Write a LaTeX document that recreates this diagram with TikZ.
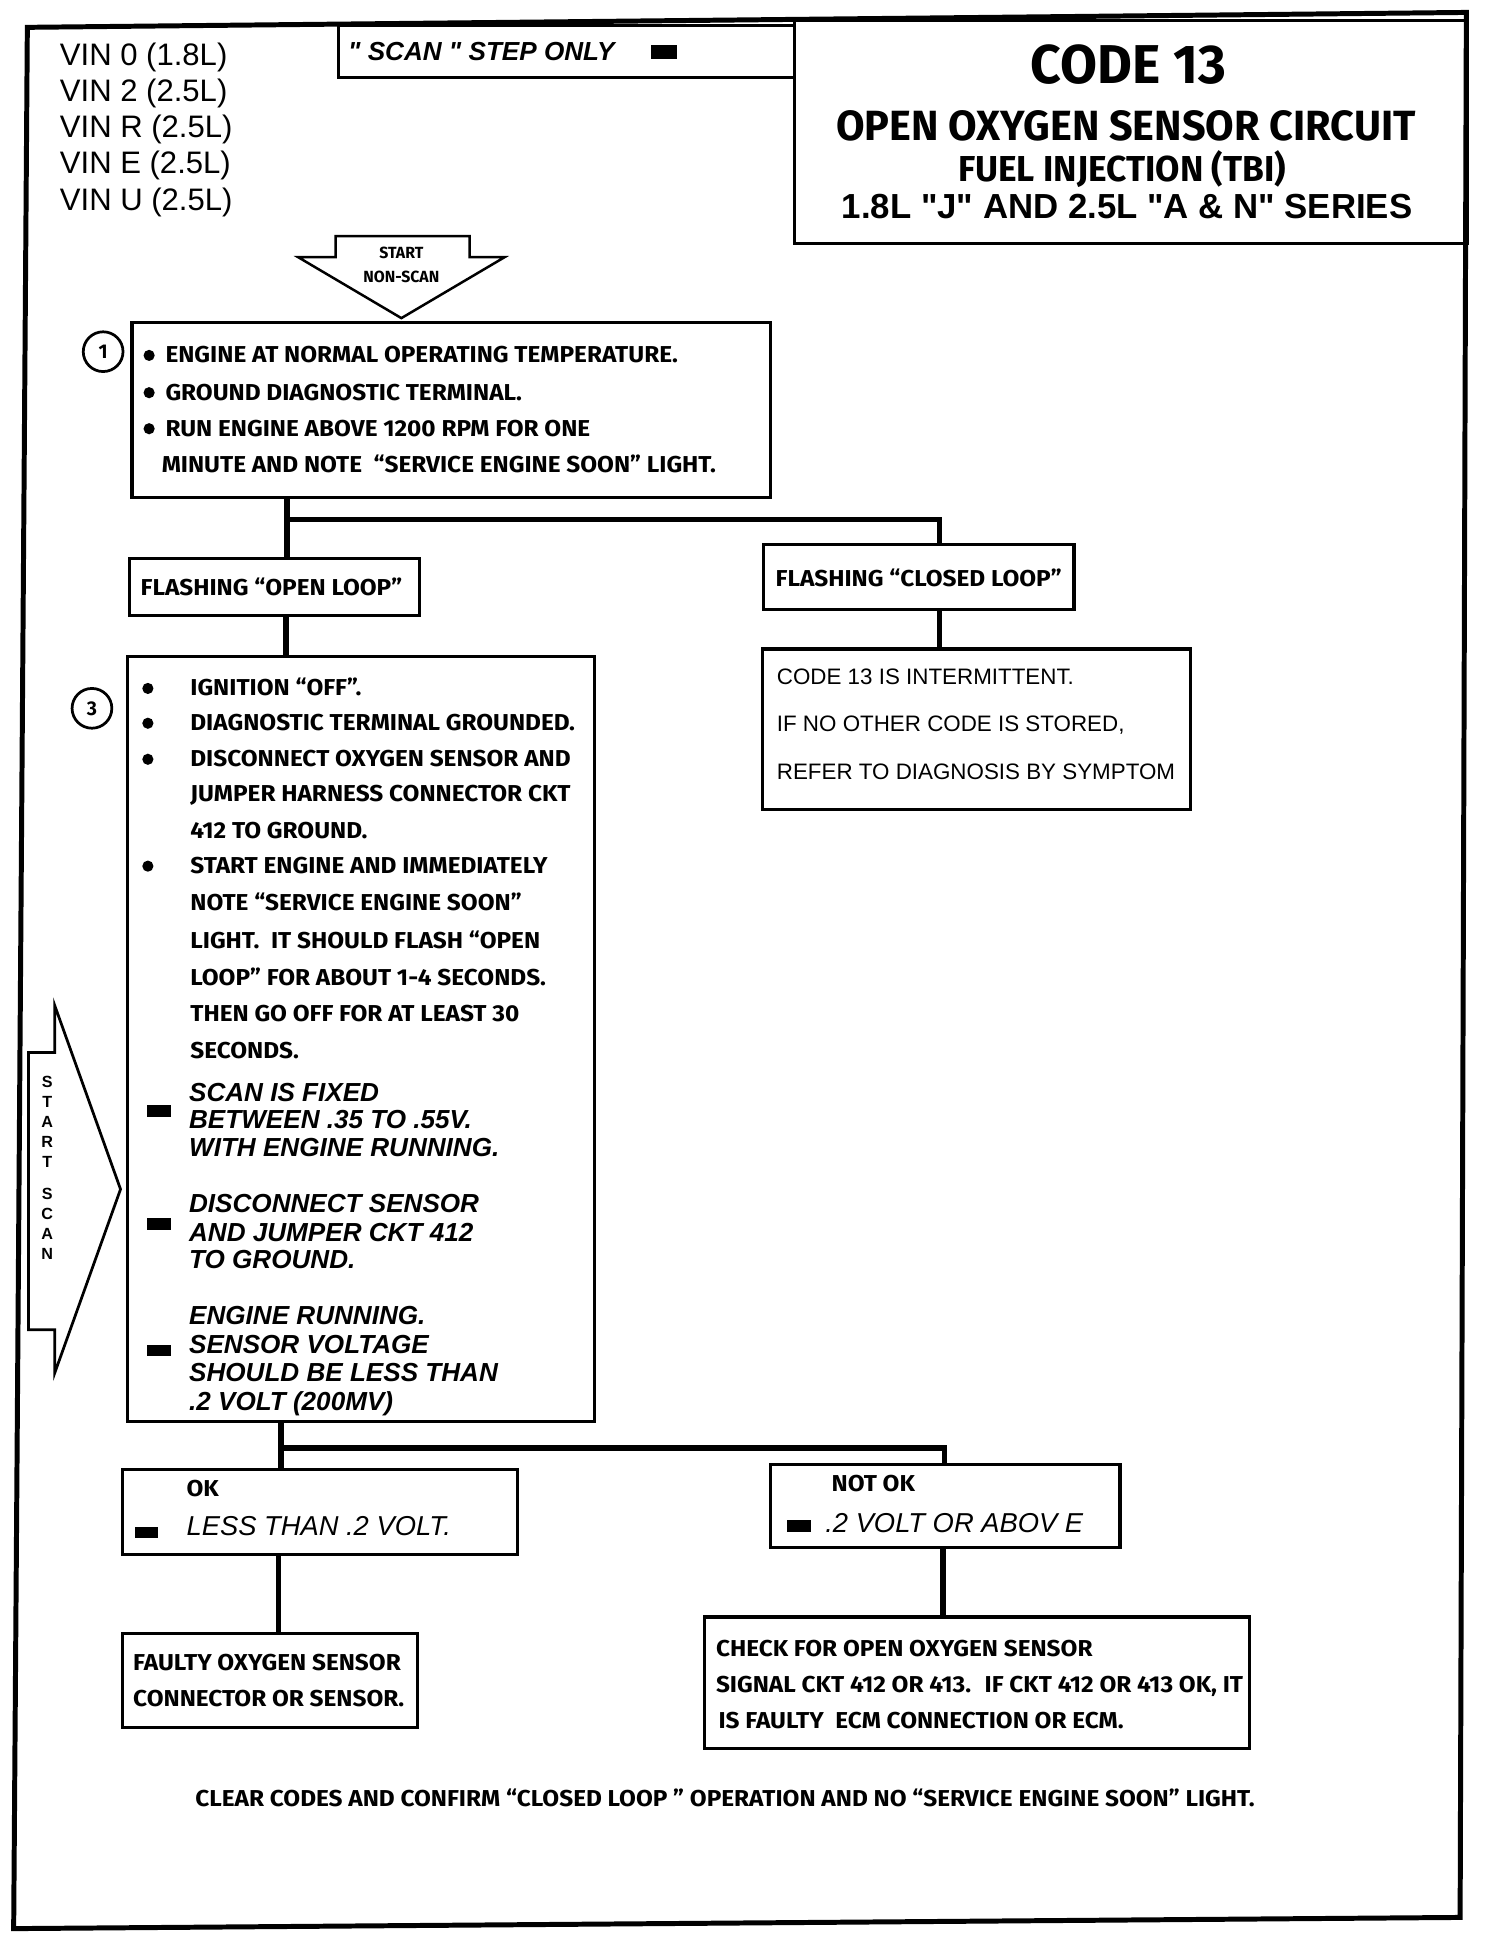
\documentclass[tikz,border=0pt]{standalone}
\usepackage{fontspec}
\setmainfont{Liberation Sans}
\newfontfamily\hum[FakeStretch=0.98]{Fira Sans}
\newfontfamily\humb[FakeStretch=1.06]{Fira Sans}
\newfontfamily\ari{Liberation Sans}
\usetikzlibrary{calc}
\begin{document}
\begin{tikzpicture}[x=1pt,y=-1pt,
  box/.style={draw, line width=2.5pt, inner sep=0pt, anchor=north west},
  conn/.style={line width=4.5pt},
  ht/.style={font=\humb\bfseries\fontsize{18.5}{20}\selectfont, anchor=base west, inner sep=0pt},
  at13/.style={font=\ari\fontsize{18}{20}\selectfont, anchor=base west, inner sep=0pt},
  itb/.style={font=\ari\bfseries\itshape\fontsize{21}{23}\selectfont, anchor=base west, inner sep=0pt},
  itr/.style={font=\ari\itshape\fontsize{22}{23}\selectfont, anchor=base west, inner sep=0pt},
  bul/.style={circle, fill, inner sep=0pt, minimum size=9pt},
  sq/.style={fill, inner sep=0pt, minimum width=19pt, minimum height=9pt},
  num/.style={circle, draw, line width=2.2pt, minimum size=32pt, inner sep=0pt, font=\hum\bfseries\fontsize{16}{18}\selectfont},
  vin/.style={font=\ari\fontsize{25}{27}\selectfont, anchor=base west, inner sep=0pt},
  ssl/.style={font=\ari\bfseries\fontsize{13}{14}\selectfont, inner sep=0pt}
]
\useasboundingbox (0,0) rectangle (1210,1566);
\fill[white] (0,0) rectangle (1210,1566);

% outer frame
\draw[line width=4pt, line join=miter] (22,22) -- (1180,10) -- (1175,1543) -- (11,1552) -- cycle;

% VIN list
\node[vin] (v1) at (48,53) {VIN 0 (1.8L)};
\node[vin] (v2) at (48,82) {VIN 2 (2.5L)};
\node[vin] (v3) at (48,111) {VIN R (2.5L)};
\node[vin] (v4) at (48,140) {VIN E (2.5L)};
\node[vin] (v5) at (48,169) {VIN U (2.5L)};

% scan step only box
\node[box, minimum width=367pt, minimum height=42pt] (scanonly) at (271,19) {};
\node[font=\ari\bfseries\itshape\fontsize{21}{23}\selectfont, anchor=base west, inner sep=0pt] (scanonlyt) at (280,49) {" SCAN " STEP ONLY};
\node[sq, minimum width=21pt, minimum height=11pt] (scanonlysq) at (534,42) {};

% code 13 box
\node[box, minimum width=542pt, minimum height=180pt] (code) at (638,15) {};
\node[font=\hum\bfseries\fontsize{44}{46}\selectfont, anchor=base, inner sep=0pt] (c1) at (908,67) {CODE 13};
\node[font=\hum\bfseries\fontsize{34}{36}\selectfont, anchor=base, inner sep=0pt] (c2) at (906,113) {OPEN OXYGEN SENSOR CIRCUIT};
\node[font=\hum\bfseries\fontsize{29}{32}\selectfont, anchor=base, inner sep=0pt] (c3) at (903,146) {FUEL INJECTION (TBI)};
\node[font=\ari\bfseries\fontsize{28}{30}\selectfont, anchor=base, inner sep=0pt] (c4) at (907,176) {1.8L "J" AND 2.5L "A \& N" SERIES};

% start non-scan arrow
\draw[line width=2pt, line join=miter] (270,190) -- (378,190) -- (378,207) -- (406,207) -- (323,256) -- (240,207) -- (270,207) -- cycle;
\node[font=\hum\bfseries\fontsize{13}{14}\selectfont, anchor=base, inner sep=0pt] (ns1) at (323,208) {START};
\node[font=\hum\bfseries\fontsize{13}{14}\selectfont, anchor=base, inner sep=0pt] (ns2) at (323,227) {NON-SCAN};

% box 1
\node[num] (n1) at (83,283) {1};
\node[box, minimum width=514pt, minimum height=141pt] (b1) at (105,258) {};
\node[bul] (b1d1) at (120,286) {};
\node[bul] (b1d2) at (120,316) {};
\node[bul] (b1d3) at (120,345) {};
\node[ht] (b1t1) at (133,292) {ENGINE AT NORMAL OPERATING TEMPERATURE.};
\node[ht] (b1t2) at (133,322) {GROUND DIAGNOSTIC TERMINAL.};
\node[ht] (b1t3) at (133,351) {RUN ENGINE ABOVE 1200 RPM FOR ONE};
\node[ht] (b1t4) at (130,380) {MINUTE AND NOTE \ “SERVICE ENGINE SOON” LIGHT.};

% flashing boxes
\node[box, minimum width=233pt, minimum height=46pt] (open) at (103,448) {};
\node[ht] (opent) at (113,479) {FLASHING “OPEN LOOP”};
\node[box, minimum width=250pt, minimum height=52pt] (closed) at (613,437) {};
\node[ht] (closedt) at (624,472) {FLASHING “CLOSED LOOP”};

% intermittent box
\node[box, minimum width=345pt, minimum height=129pt] (inter) at (612,521) {};
\node[at13] (it1) at (625,551) {CODE 13 IS INTERMITTENT.};
\node[at13] (it2) at (625,589) {IF NO OTHER CODE IS STORED,};
\node[at13] (it3) at (625,627) {REFER TO DIAGNOSIS BY SYMPTOM};

% box 3
\node[num] (n3) at (74,570) {3};
\node[box, minimum width=376pt, minimum height=616pt] (b3) at (101,527) {};
\node[bul] (b3d1) at (119,554) {};
\node[bul] (b3d2) at (119,582) {};
\node[bul] (b3d3) at (119,611) {};
\node[bul] (b3d4) at (119,697) {};
\node[ht] (b3t1) at (153,560) {IGNITION “OFF”.};
\node[ht] (b3t2) at (153,588) {DIAGNOSTIC TERMINAL GROUNDED.};
\node[ht] (b3t3) at (153,617) {DISCONNECT OXYGEN SENSOR AND};
\node[ht] (b3t4) at (153,645) {JUMPER HARNESS CONNECTOR CKT};
\node[ht] (b3t5) at (153,675) {412 TO GROUND.};
\node[ht] (b3t6) at (153,703) {START ENGINE AND IMMEDIATELY};
\node[ht] (b3t7) at (153,733) {NOTE “SERVICE ENGINE SOON”};
\node[ht] (b3t8) at (153,763) {LIGHT. \ IT SHOULD FLASH “OPEN};
\node[ht] (b3t9) at (153,793) {LOOP” FOR ABOUT 1-4 SECONDS.};
\node[ht] (b3t10) at (153,822) {THEN GO OFF FOR AT LEAST 30};
\node[ht] (b3t11) at (153,852) {SECONDS.};
\node[sq] (s1) at (128,894) {};
\node[itb] (s1a) at (152,886) {SCAN IS FIXED};
\node[itb] (s1b) at (152,908) {BETWEEN .35 TO .55V.};
\node[itb] (s1c) at (152,931) {WITH ENGINE RUNNING.};
\node[sq] (s2) at (128,985) {};
\node[itb] (s2a) at (152,976) {DISCONNECT SENSOR};
\node[itb] (s2b) at (152,999) {AND JUMPER CKT 412};
\node[itb] (s2c) at (152,1021) {TO GROUND.};
\node[sq] (s3) at (128,1087) {};
\node[itb] (s3a) at (152,1066) {ENGINE RUNNING.};
\node[itb] (s3b) at (152,1089) {SENSOR VOLTAGE};
\node[itb] (s3c) at (152,1112) {SHOULD BE LESS THAN};
\node[itb] (s3d) at (152,1135) {.2 VOLT (200MV)};

% start scan arrow
\draw[line width=2.2pt, line join=miter] (23,847) -- (44,847) -- (44,809) -- (97,957) -- (44,1105) -- (44,1070) -- (23,1070) -- cycle;
\node[ssl] (ss1) at (38,871) {S};
\node[ssl] (ss2) at (38,887) {T};
\node[ssl] (ss3) at (38,903) {A};
\node[ssl] (ss4) at (38,919) {R};
\node[ssl] (ss5) at (38,935) {T};
\node[ssl] (ss6) at (38,961) {S};
\node[ssl] (ss7) at (38,977) {C};
\node[ssl] (ss8) at (38,993) {A};
\node[ssl] (ss9) at (38,1009) {N};

% OK / NOT OK
\node[box, minimum width=318pt, minimum height=69pt] (ok) at (97,1181) {};
\node[ht] (okt) at (150,1204) {OK};
\node[sq] (oksq) at (118,1233) {};
\node[itr] (okv) at (150,1236) {LESS THAN .2 VOLT.};
\node[box, minimum width=281pt, minimum height=67pt] (nok) at (619,1177) {};
\node[ht] (nokt) at (669,1200) {NOT OK};
\node[sq] (noksq) at (643,1228) {};
\node[itr] (nokv) at (664,1233) {.2 VOLT OR ABOV E};

% result boxes
\node[box, minimum width=238pt, minimum height=76pt] (faulty) at (97,1313) {};
\node[ht] (f1) at (107,1344) {FAULTY OXYGEN SENSOR};
\node[ht] (f2) at (107,1373) {CONNECTOR OR SENSOR.};
\node[box, minimum width=438pt, minimum height=106pt] (check) at (566,1300) {};
\node[ht] (k1) at (576,1333) {CHECK FOR OPEN OXYGEN SENSOR};
\node[ht] (k2) at (576,1362) {SIGNAL CKT 412 OR 413. \ IF CKT 412 OR 413 OK, IT};
\node[ht] (k3) at (578,1391) {IS FAULTY \ ECM CONNECTION OR ECM.};

\node[ht] (bottom) at (157,1454) {CLEAR CODES AND CONFIRM “CLOSED LOOP ” OPERATION AND NO “SERVICE ENGINE SOON” LIGHT.};

% connectors
\coordinate (j1) at (231,418);
\coordinate (j2) at (756,418);
\coordinate (j3) at (230,510);
\coordinate (j4) at (226,1165);
\coordinate (j5) at (760,1165);
\coordinate (j6) at (224,1280);
\coordinate (j7) at (759,1270);
\draw[conn] (b1.south -| j1) -- (open.north -| j1);
\draw[conn] (j1) -- (j2) -- (closed.north -| j2);
\draw[conn] (closed.south -| j2) -- (inter.north -| j2);
\draw[conn] (open.south -| j3) -- (b3.north -| j3);
\draw[conn] (b3.south -| j4) -- (ok.north -| j4);
\draw[conn] (j4) -- (j5) -- (nok.north -| j5);
\draw[conn] (ok.south -| j6) -- (faulty.north -| j6);
\draw[conn] (nok.south -| j7) -- (check.north -| j7);
\end{tikzpicture}
\end{document}
